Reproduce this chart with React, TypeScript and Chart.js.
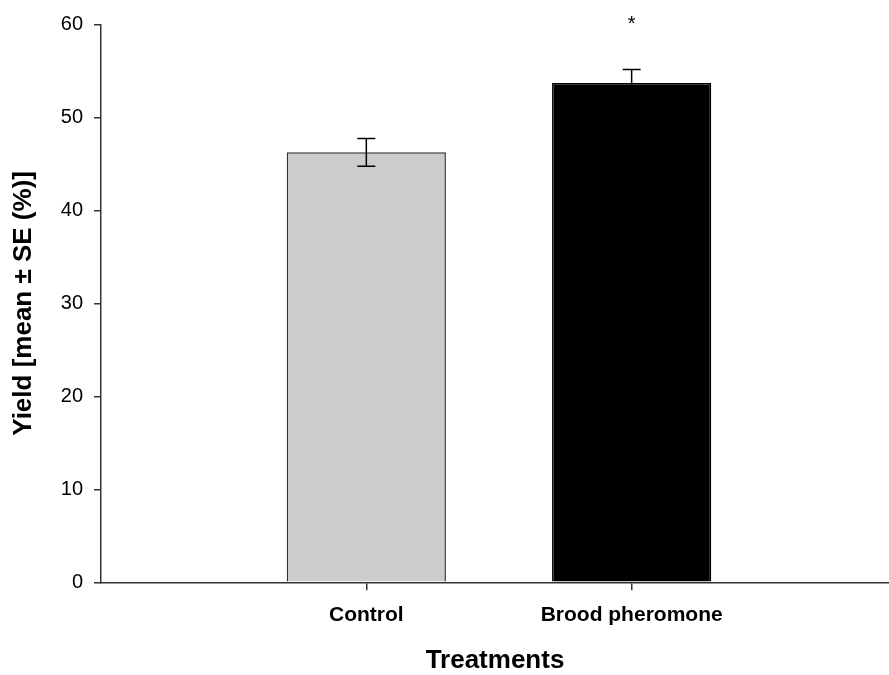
import { useEffect, useRef } from 'react';
import { Chart, registerables } from 'chart.js';

Chart.register(...registerables);

const categories = ['Control', 'Brood pheromone'];
const positions = [1, 2];
const means = [46.25, 53.7];
const errors = [1.5, 1.45];
const significance = ['', '*'];
const barColors = ['#cccccc', '#000000'];
const barBorders = ['#333333', '#000000'];
const yMin = 0;
const yMax = 60;
const yStep = 10;

const FONT = '"Liberation Sans", Arial, Helvetica, sans-serif';
const AXIS = '#333333';

const errorPlugin = {
  id: 'errorBars',
  afterDatasetsDraw(chart: any) {
    const { ctx, scales } = chart;
    const x = scales.x;
    const y = scales.y;
    ctx.save();
    ctx.strokeStyle = '#000000';
    ctx.lineWidth = 1.5;
    positions.forEach((p, i) => {
      const px = x.getPixelForValue(p);
      const top = y.getPixelForValue(means[i] + errors[i]);
      const bot = y.getPixelForValue(means[i] - errors[i]);
      const cap = 9;
      ctx.beginPath();
      ctx.moveTo(px, top);
      ctx.lineTo(px, bot);
      ctx.moveTo(px - cap, top);
      ctx.lineTo(px + cap, top);
      ctx.moveTo(px - cap, bot);
      ctx.lineTo(px + cap, bot);
      ctx.stroke();
      if (significance[i]) {
        ctx.fillStyle = '#000000';
        ctx.font = `20px ${FONT}`;
        ctx.textAlign = 'center';
        ctx.textBaseline = 'alphabetic';
        ctx.fillText(significance[i], px, top - 40);
      }
    });
    ctx.restore();
  },
};

export default function App() {
  const ref = useRef<HTMLCanvasElement | null>(null);

  useEffect(() => {
    if (!ref.current) return;
    const chart = new Chart(ref.current, {
      type: 'bar',
      data: {
        datasets: [
          {
            data: positions.map((p, i) => ({ x: p, y: means[i] })),
            backgroundColor: barColors,
            borderColor: barBorders,
            borderWidth: 1.5,
            barPercentage: 0.6,
            categoryPercentage: 1,
          },
        ],
      },
      options: {
        animation: false,
        responsive: true,
        maintainAspectRatio: false,
        layout: { padding: { top: 24.5, right: 0, left: 0, bottom: 0 } },
        plugins: {
          legend: { display: false },
          tooltip: { enabled: false },
        },
        scales: {
          x: {
            type: 'linear',
            min: 0,
            max: 2.97,
            offset: false,
            afterBuildTicks: (scale: any) => {
              scale.ticks = positions.map((v) => ({ value: v }));
            },
            afterFit: (scale: any) => {
              scale.height = 92.7;
            },
            ticks: {
              callback: (value: any) => categories[positions.indexOf(Number(value))] ?? '',
              color: '#000000',
              font: { family: FONT, size: 21, weight: 'bold', lineHeight: 1.2 },
              padding: 12,
              maxRotation: 0,
              autoSkip: false,
            },
            grid: {
              offset: false,
              drawOnChartArea: false,
              drawTicks: true,
              tickLength: 8,
              color: AXIS,
              lineWidth: 1.5,
            },
            border: { display: true, color: AXIS, width: 1.5 },
            title: {
              display: true,
              text: 'Treatments',
              color: '#000000',
              font: { family: FONT, size: 26, weight: 'bold', lineHeight: 1 },
              padding: { top: 0, bottom: 1 },
            },
          },
          y: {
            min: yMin,
            max: yMax,
            afterFit: (scale: any) => {
              scale.width = 101;
            },
            ticks: {
              stepSize: yStep,
              color: '#000000',
              font: { family: FONT, size: 20, lineHeight: 1.2 },
              padding: 11,
            },
            grid: {
              drawOnChartArea: false,
              drawTicks: true,
              tickLength: 7,
              color: AXIS,
              lineWidth: 1.5,
            },
            border: { display: true, color: AXIS, width: 1.5 },
            title: {
              display: true,
              text: 'Yield [mean ± SE (%)]',
              color: '#000000',
              font: { family: FONT, size: 26, weight: 'bold', lineHeight: 1 },
              padding: { top: 11, bottom: 0 },
            },
          },
        },
      },
      plugins: [errorPlugin],
    });
    return () => chart.destroy();
  }, []);

  return (
    <div style={{ position: 'fixed', left: 0, top: 0, width: 889, height: 675, background: '#ffffff' }}>
      <canvas ref={ref} />
    </div>
  );
}
